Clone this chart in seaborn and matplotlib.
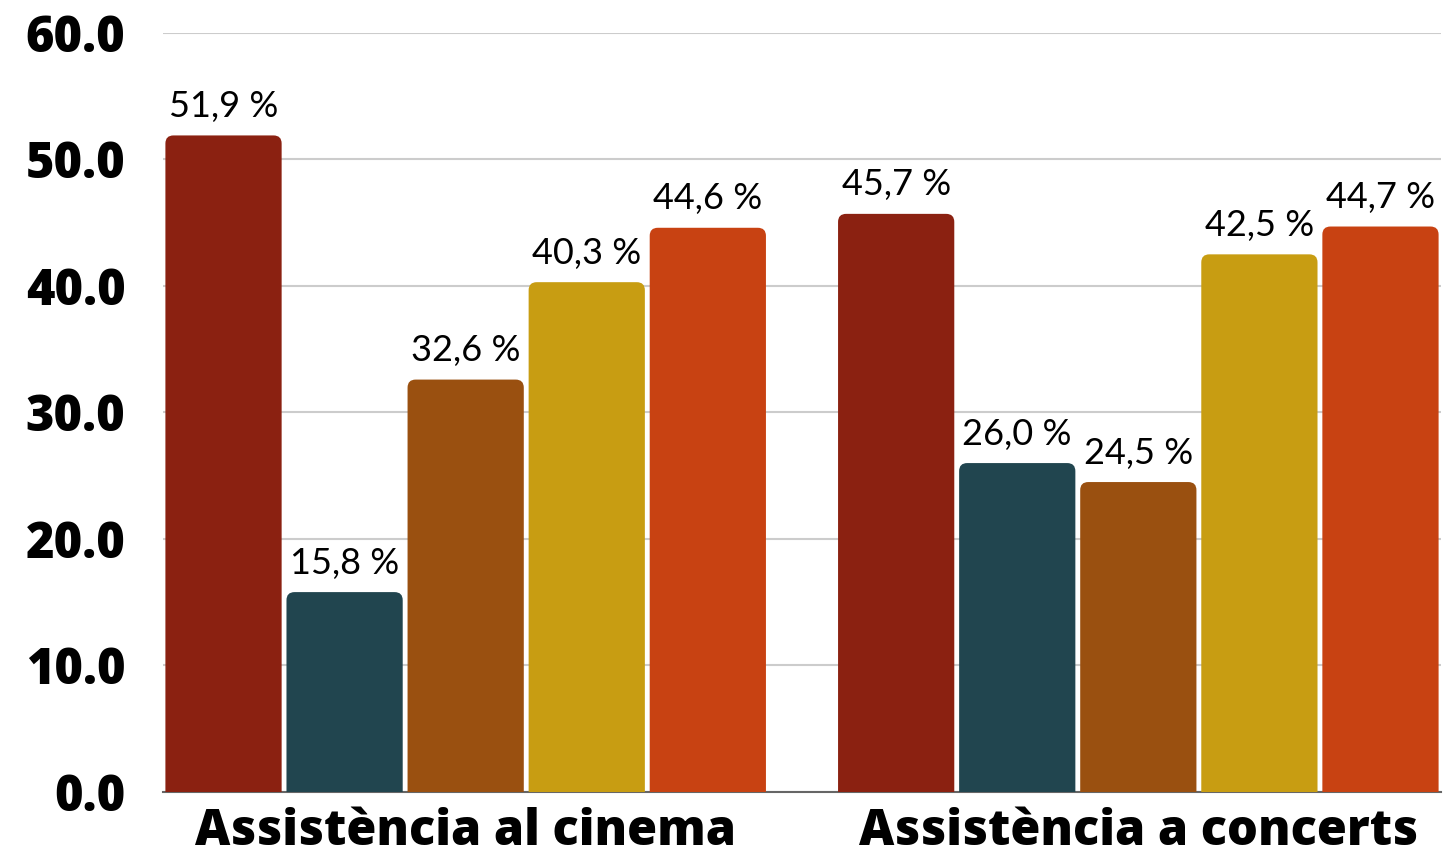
import matplotlib
matplotlib.use("Agg")
import matplotlib.pyplot as plt
import numpy as np
import pandas as pd
import seaborn as sns
from matplotlib.patches import FancyBboxPatch

# Data
categories = ["Assistència al cinema", "Assistència a concerts"]
series = ["Grup 1", "Grup 2", "Grup 3", "Grup 4", "Grup 5"]
cinema = [51.9, 15.8, 32.6, 40.3, 44.6]
concerts = [45.7, 26.0, 24.5, 42.5, 44.7]
colors = ["#8B2111", "#21454F", "#9A5010", "#C89D12", "#C84212"]
yticks = [0, 10, 20, 30, 40, 50, 60]

df = pd.DataFrame({
    "cat": [categories[0]] * 5 + [categories[1]] * 5,
    "serie": series * 2,
    "value": cinema + concerts,
})

sns.set_style("white")

fig = plt.figure(figsize=(14.5, 8.63), dpi=100)
ax = fig.add_axes([0.1124, 0.0823, 0.8814, 0.8795])

sns.barplot(data=df, x="cat", y="value", hue="serie", palette=colors,
            width=0.9, gap=0.04, saturation=1, legend=False, ax=ax)

# value labels
for cont in ax.containers:
    labs = [f"{b.get_height():.1f} %".replace(".", ",") for b in cont]
    ax.bar_label(cont, labels=labs, padding=9, fontsize=26,
                 family="Lato", fontweight="normal", color="black")

# rounded tops
for p in list(ax.patches):
    x, w, h = p.get_x(), p.get_width(), p.get_height()
    fc = p.get_facecolor()
    p.remove()
    rb = FancyBboxPatch((x, -2), w, h + 2,
                        boxstyle="round,pad=0,rounding_size=0.012",
                        mutation_aspect=53, facecolor=fc, edgecolor="none",
                        zorder=2)
    ax.add_patch(rb)

ax.set_xlim(-0.45, 1.45)
ax.set_ylim(0, 60)
ax.set_yticks(yticks)
ax.set_yticklabels([f"{v:.1f}" for v in yticks], fontsize=35,
                   family="Open Sans", fontweight="heavy", color="black")
ax.set_xticks([0, 1])
ax.set_xticklabels(categories, fontsize=35, family="Open Sans",
                   fontweight="heavy", fontstretch="condensed", color="black")
ax.tick_params(axis="y", length=0, pad=27)
ax.tick_params(axis="x", length=0, pad=11)
ax.set_xlabel("")
ax.set_ylabel("")
ax.yaxis.grid(True, color="#CCCCCC", linewidth=1.5)
ax.set_axisbelow(True)
for s in ["left", "right", "top"]:
    ax.spines[s].set_visible(False)
ax.spines["bottom"].set_color("#666666")
ax.spines["bottom"].set_linewidth(1.5)
ax.spines["bottom"].set_zorder(1)

fig.savefig("out.png", dpi=100)
